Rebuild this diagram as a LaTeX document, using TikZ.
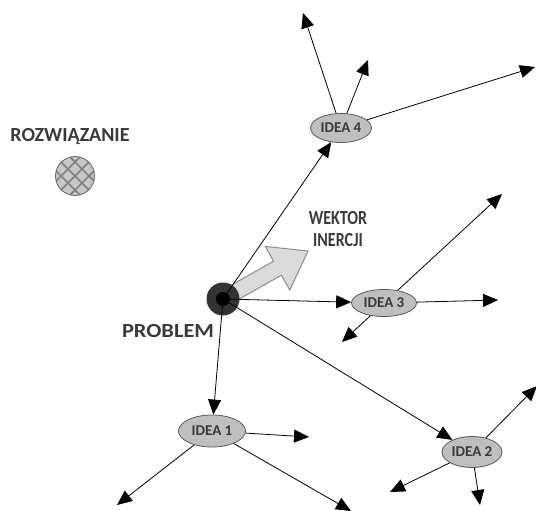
\documentclass[tikz,border=0pt]{standalone}
\usepackage{fontspec}
\setmainfont{Carlito}
\usetikzlibrary{arrows.meta,shapes.geometric}
\definecolor{txt}{HTML}{3A3A3A}
\tikzset{
  idea/.style={ellipse, draw=black!65, fill=black!25, line width=0.8pt, inner sep=0pt,
    font=\fontsize{15}{16}\selectfont\bfseries, text=txt},
  conn/.style={line width=0.8pt, -{Triangle[length=15pt,width=13pt]}},
  lbl/.style={font=\fontsize{20}{22}\selectfont\bfseries, text=txt, align=center, inner sep=0pt},
  bigarrow/.style={fill=black!14, draw=black!45, line width=1pt}
}
\begin{document}
\begin{tikzpicture}[x=1pt,y=-1pt]
\useasboundingbox (0,0) rectangle (536,511);
% big gray arrow (WEKTOR INERCJI)
\draw[bigarrow] (226.9,306.0) -- (281.4,275.2) -- (289.8,290.0) -- (308,251)
  -- (265.2,246.4) -- (273.6,261.2) -- (219.1,292.0) -- cycle;
% problem
\node[circle, fill=black!80, minimum size=33pt, inner sep=0pt] (p) at (223,299) {};
\node[circle, fill=black, minimum size=14pt, inner sep=0pt] (pc) at (223,299) {};
% solution
\node[circle, fill=black!22, minimum size=39pt, inner sep=0pt] (sol) at (75,176) {};
\begin{scope}
  \clip (75,176) circle (19.5);
  \foreach \k in {-70,-56,...,70} {
    \draw[black!50, line width=1.5pt] (75+\k-30,176-30) -- (75+\k+30,176+30);
    \draw[black!50, line width=1.5pt] (75+\k-30,176+30) -- (75+\k+30,176-30);
  }
\end{scope}
\draw[black!60, line width=0.8pt] (sol.center) circle (19.5);
% labels
\node[lbl] (tsol) at (70,137) {ROZWIĄZANIE};
\node[lbl] (tprob) at (168,331) {\scalebox{1.12}[1]{PROBLEM}};
\node[lbl, font=\fontsize{20}{22}\selectfont\bfseries] (twek) at (338,229)
  {\scalebox{0.8}[1]{WEKTOR}\\\scalebox{0.8}[1]{INERCJI}};
% ideas
\node[idea, minimum width=61pt, minimum height=29pt] (i4) at (341,128) {IDEA 4};
\node[idea, minimum width=65pt, minimum height=27pt] (i3) at (384,303) {IDEA 3};
\node[idea, minimum width=67pt, minimum height=32pt] (i1) at (212,431) {IDEA 1};
\node[idea, minimum width=60pt, minimum height=31pt] (i2) at (472,452) {IDEA 2};
% free ends
\coordinate (e41) at (303,13);
\coordinate (e42) at (368,60);
\coordinate (e43) at (535,67);
\coordinate (e31) at (502,194);
\coordinate (e32) at (498,300);
\coordinate (e33) at (342,342);
\coordinate (e11) at (309,437);
\coordinate (e12) at (117,505);
\coordinate (e13) at (351,511);
\coordinate (e21) at (537,386);
\coordinate (e22) at (390,492);
\coordinate (e23) at (480,505);
% connectors
\draw[conn] (p.center) -- (i4);
\draw[conn] (p.center) -- (i3);
\draw[conn] (p.center) -- (i1);
\draw[conn] (p.center) -- (i2);
\foreach \e in {e41,e42,e43} \draw[conn] (i4) -- (\e);
\foreach \e in {e31,e32,e33} \draw[conn] (i3) -- (\e);
\foreach \e in {e11,e12,e13} \draw[conn] (i1) -- (\e);
\foreach \e in {e21,e22,e23} \draw[conn] (i2) -- (\e);
\end{tikzpicture}
\end{document}
